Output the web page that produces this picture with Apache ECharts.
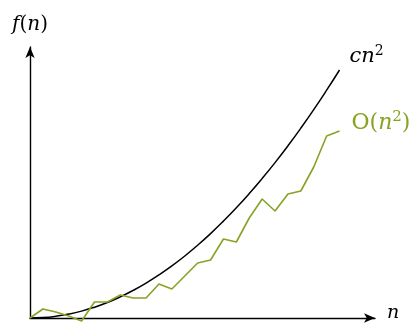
<!DOCTYPE html>
<html>
<head>
<meta charset="utf-8">
<script src="https://cdn.jsdelivr.net/npm/echarts@6/dist/echarts.min.js"></script>
<style>
html,body{margin:0;padding:0;background:#fff;}
#c{width:411px;height:324px;}
</style>
</head>
<body>
<div id="c"></div>
<script>
// n positions (x)
const nValues = [0,1,2,3,4,5,6,7,8,9,10,11,12,13,14,15,16,17,18,19,20,21,22,23,24];
// smooth bound c·n²
const cn2Values = [0,0.4,1.7,3.9,6.9,10.8,15.5,21.1,27.6,34.9,43.1,52.1,62.0,72.8,84.4,96.9,110.2,124.4,139.5,155.4,172.2,189.9,208.4,227.8,248.0];
// noisy O(n²) sequence
const oValues = [0,9,6,2,-3,16,16,23,20,20,34,29,42,55,58,79,76,100,119,107,124,127,151,182,187];

const GREEN = '#86a324';
const serif = '"DejaVu Serif", "Liberation Serif", serif';

function pairs(xs, ys){ return xs.map((x,i)=>[x, ys[i]]); }

const chart = echarts.init(document.getElementById('c'), null, {renderer:'canvas'});
chart.setOption({
  animation:false,
  backgroundColor:'#fff',
  grid:{left:30, right:36, top:47, bottom:6, containLabel:false},
  xAxis:{
    type:'value', min:0, max:26.75,
    axisLine:{show:true, lineStyle:{color:'#000', width:1.4}, symbol:['none','arrow'], symbolSize:[7,11]},
    axisTick:{show:false}, axisLabel:{show:false}, splitLine:{show:false},
    name:'{i|n}', nameLocation:'end', nameGap:12,
    nameTextStyle:{rich:{i:{fontFamily:serif, fontStyle:'italic', fontSize:19, color:'#000'}}, padding:[0,0,10,0]}
  },
  yAxis:{
    type:'value', min:0, max:271,
    axisLine:{show:true, lineStyle:{color:'#000', width:1.4}, symbol:['none','arrow'], symbolSize:[7,11]},
    axisTick:{show:false}, axisLabel:{show:false}, splitLine:{show:false},
    name:'{i|f}{r|(}{i|n}{r|)}', nameLocation:'end', nameGap:12,
    nameTextStyle:{rich:{
      i:{fontFamily:serif, fontStyle:'italic', fontSize:20, color:'#000'},
      r:{fontFamily:serif, fontSize:20, color:'#000'}
    }}
  },
  series:[
    {
      type:'line', data:pairs(nValues, cn2Values), smooth:true, showSymbol:false, clip:false,
      lineStyle:{color:'#000', width:1.5},
      endLabel:{show:true, offset:[2,-13], formatter:()=>'{i|cn}{s|2}',
        rich:{i:{fontFamily:serif, fontStyle:'italic', fontSize:21, color:'#000', lineHeight:26},
              s:{fontFamily:serif, fontSize:14, color:'#000', lineHeight:14, verticalAlign:'top'}}}
    },
    {
      type:'line', data:pairs(nValues, oValues), smooth:false, showSymbol:false, clip:false,
      lineStyle:{color:GREEN, width:1.6},
      endLabel:{show:true, offset:[4,-8], formatter:()=>'{r|O(}{i|n}{s|2}{r|)}',
        rich:{r:{fontFamily:serif, fontSize:22, color:GREEN, lineHeight:27},
              i:{fontFamily:serif, fontStyle:'italic', fontSize:22, color:GREEN, lineHeight:27},
              s:{fontFamily:serif, fontSize:15, color:GREEN, lineHeight:15, verticalAlign:'top'}}}
    }
  ]
});
</script>
</body>
</html>
